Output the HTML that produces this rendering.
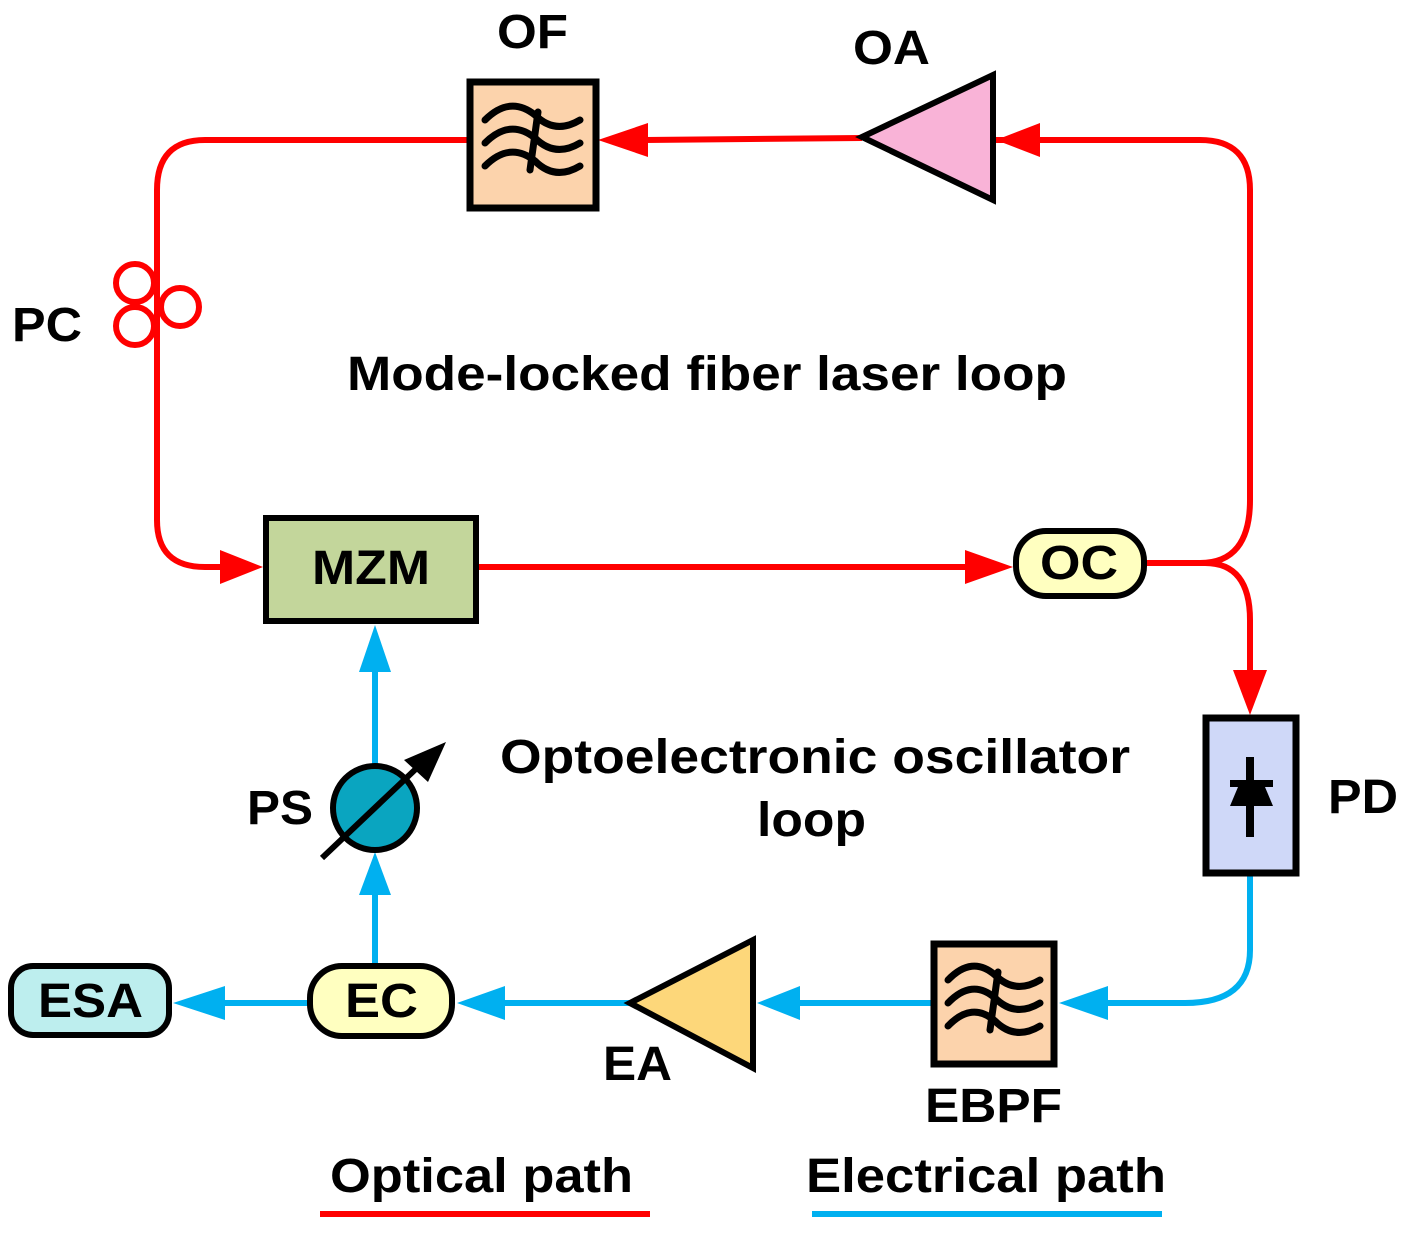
<!DOCTYPE html>
<html><head><meta charset="utf-8"><style>html,body{margin:0;padding:0;background:#fff}svg{display:block}</style></head>
<body>
<svg width="1404" height="1233" viewBox="0 0 1404 1233" xmlns="http://www.w3.org/2000/svg" font-family="Liberation Sans, sans-serif" font-weight="bold">
<g fill="none" stroke="#ff0000" stroke-width="6">
<path d="M468 140 L205 140 Q157 140 157 190 L157 520 Q157 567 205 567 L225 567"/>
<path d="M477 567 L975 567"/>
<path d="M862 138 L645 140"/>
<path d="M993 140 L1200 140 Q1250 140 1250 190 L1250 500 Q1250 563 1200 563 L1145 563"/>
<path d="M1145 563 L1205 563 Q1250 563 1250 620 L1250 680"/>
</g>
<g fill="#ff0000">
<polygon points="263,567 220,550 220,584"/>
<polygon points="1013,567 965,550 965,584"/>
<polygon points="598,140 648,123 648,157"/>
<polygon points="996,140 1040,123 1040,157"/>
<polygon points="1250,715 1233,670 1267,670"/>
</g>
<g fill="#fff" stroke="#ff0000" stroke-width="6">
<circle cx="135" cy="283" r="19"/><circle cx="135" cy="326" r="19"/><circle cx="180" cy="307" r="19"/>
</g>
<g fill="none" stroke="#00b0f0" stroke-width="6">
<path d="M1250 873 L1250 950 Q1250 1003 1185 1003 L1100 1003"/>
<path d="M932 1003 L795 1003"/>
<path d="M630 1003 L500 1003"/>
<path d="M309 1003 L215 1003"/>
<path d="M375 965 L375 890"/>
<path d="M375 765 L375 665"/>
</g>
<g fill="#00b0f0">
<polygon points="1059,1003 1108,986 1108,1020"/>
<polygon points="757,1003 800,986 800,1020"/>
<polygon points="457,1003 505,986 505,1020"/>
<polygon points="173,1003 225,986 225,1020"/>
<polygon points="375,852 359,895 391,895"/>
<polygon points="375,625 359,672 391,672"/>
</g>
<rect x="470" y="82" width="126" height="126" fill="#fcd3ac" stroke="#000" stroke-width="7"/>
<g fill="none" stroke="#000" stroke-width="7" stroke-linecap="round">
<path d="M485 120 Q510 95 535 115 Q555 135 580 120"/>
<path d="M485 143 Q510 118 535 138 Q555 158 580 143"/>
<path d="M485 166 Q510 141 535 161 Q555 181 580 166"/>
<path d="M538 112 L530 170"/>
</g>
<polygon points="862,137 993,75 993,200" fill="#f9b3d7" stroke="#000" stroke-width="6"/>
<rect x="266" y="518" width="210" height="103" fill="#c3d69b" stroke="#000" stroke-width="6"/>
<rect x="1016" y="531" width="128" height="65" rx="30" fill="#ffffc0" stroke="#000" stroke-width="6"/>
<rect x="1206" y="718" width="90" height="155" fill="#cfd8f8" stroke="#000" stroke-width="7"/>
<g fill="#000"><rect x="1246" y="757" width="8" height="80"/><polygon points="1230,780 1273,780 1273,787 1265,787 1273,806 1230,806 1238,787 1230,787"/></g>
<rect x="934" y="944" width="120" height="120" fill="#fcd3ac" stroke="#000" stroke-width="7"/>
<g fill="none" stroke="#000" stroke-width="7" stroke-linecap="round">
<path d="M948 980 Q972 955 995 975 Q1015 995 1040 980"/>
<path d="M948 1003 Q972 978 995 998 Q1015 1018 1040 1003"/>
<path d="M948 1026 Q972 1001 995 1021 Q1015 1041 1040 1026"/>
<path d="M998 972 L990 1030"/>
</g>
<polygon points="630,1003 753,940 753,1068" fill="#fdd77a" stroke="#000" stroke-width="6"/>
<rect x="310" y="966" width="142" height="70" rx="32" fill="#ffffc0" stroke="#000" stroke-width="6"/>
<rect x="11" y="966" width="158" height="69" rx="22" fill="#bdeeee" stroke="#000" stroke-width="6"/>
<circle cx="375" cy="808" r="42" fill="#0aa5c0" stroke="#000" stroke-width="6"/>
<line x1="322" y1="858" x2="420" y2="765" stroke="#000" stroke-width="6"/>
<polygon points="446,742 404,760 428,782" fill="#000"/>
<g font-size="48" fill="#000" lengthAdjust="spacingAndGlyphs">
<text x="497" y="48" textLength="71" lengthAdjust="spacingAndGlyphs">OF</text>
<text x="853" y="64" textLength="77" lengthAdjust="spacingAndGlyphs">OA</text>
<text x="12" y="341" textLength="70" lengthAdjust="spacingAndGlyphs">PC</text>
<text x="312" y="584" textLength="118" lengthAdjust="spacingAndGlyphs">MZM</text>
<text x="1040" y="579" textLength="78" lengthAdjust="spacingAndGlyphs">OC</text>
<text x="1328" y="813" textLength="70" lengthAdjust="spacingAndGlyphs">PD</text>
<text x="247" y="824" textLength="66" lengthAdjust="spacingAndGlyphs">PS</text>
<text x="345" y="1017" textLength="73" lengthAdjust="spacingAndGlyphs">EC</text>
<text x="38" y="1017" textLength="105" lengthAdjust="spacingAndGlyphs">ESA</text>
<text x="603" y="1080" textLength="69" lengthAdjust="spacingAndGlyphs">EA</text>
<text x="925" y="1122" textLength="137" lengthAdjust="spacingAndGlyphs">EBPF</text>
<text x="347" y="390" textLength="720" lengthAdjust="spacingAndGlyphs">Mode-locked fiber laser loop</text>
<text x="500" y="773" textLength="630" lengthAdjust="spacingAndGlyphs">Optoelectronic oscillator</text>
<text x="757" y="836" textLength="109" lengthAdjust="spacingAndGlyphs">loop</text>
<text x="330" y="1192" textLength="303" lengthAdjust="spacingAndGlyphs">Optical path</text>
<text x="806" y="1192" textLength="360" lengthAdjust="spacingAndGlyphs">Electrical path</text>
</g>
<line x1="320" y1="1214" x2="650" y2="1214" stroke="#ff0000" stroke-width="6"/>
<line x1="812" y1="1214" x2="1162" y2="1214" stroke="#00b0f0" stroke-width="6"/>
</svg>
</body></html>
